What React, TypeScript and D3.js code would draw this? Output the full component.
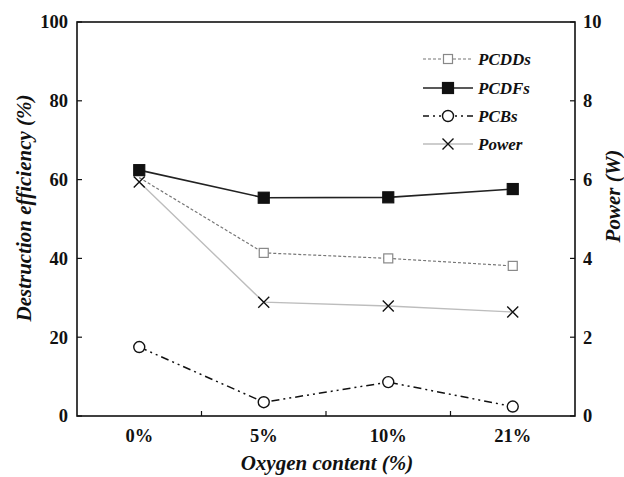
import React from "react";
import * as d3 from "d3";

const categories = ["0%", "5%", "10%", "21%"];
const pcdds = [60.5, 41.4, 40.0, 38.1];
const pcdfs = [62.4, 55.4, 55.5, 57.6];
const pcbs = [17.5, 3.5, 8.6, 2.4];
const power = [5.94, 2.89, 2.79, 2.64];
const leftTicks = [0, 20, 40, 60, 80, 100];
const rightTicks = [0, 2, 4, 6, 8, 10];

const W = 624, H = 477;
const m = { left: 77, right: 575, top: 22, bottom: 416 };

export default function App() {
  const x = d3.scaleBand().domain(categories).range([m.left, m.right]);
  const xc = (c: string) => (x(c) as number) + x.bandwidth() / 2;
  const yL = d3.scaleLinear().domain([0, 100]).range([m.bottom, m.top]);
  const yR = d3.scaleLinear().domain([0, 10]).range([m.bottom, m.top]);

  const lineL = d3.line<number>().x((_, i) => xc(categories[i])).y((d) => yL(d));
  const lineR = d3.line<number>().x((_, i) => xc(categories[i])).y((d) => yR(d));

  const serif = "'Liberation Serif', 'Times New Roman', serif";

  const square = (cx: number, cy: number, fill: string, stroke: string, s: number, key?: any) => (
    <rect key={key} x={cx - s / 2} y={cy - s / 2} width={s} height={s} fill={fill} stroke={stroke} strokeWidth={1.2} />
  );
  const circle = (cx: number, cy: number, key?: any) => (
    <circle key={key} cx={cx} cy={cy} r={5.5} fill="white" stroke="#111" strokeWidth={1.4} />
  );
  const cross = (cx: number, cy: number, key?: any) => (
    <path key={key} d={`M${cx - 5.5},${cy - 5.5}L${cx + 5.5},${cy + 5.5}M${cx - 5.5},${cy + 5.5}L${cx + 5.5},${cy - 5.5}`} stroke="#111" strokeWidth={1.4} />
  );

  const boundaries = categories.slice(1).map((c) => x(c) as number);

  const legendRows = [
    { label: "PCDDs", y: 59 },
    { label: "PCDFs", y: 88 },
    { label: "PCBs", y: 116 },
    { label: "Power", y: 144 },
  ];
  const lx0 = 423, lx1 = 473, lm = 448;

  return (
    <svg width={W} height={H} style={{ position: "absolute", left: 0, top: 0, background: "white" }} fontFamily={serif}>
      <rect x={0} y={0} width={W} height={H} fill="white" />
      <rect x={m.left} y={m.top} width={m.right - m.left} height={m.bottom - m.top} fill="none" stroke="#111" strokeWidth={1.6} />
      {leftTicks.map((t) => (
        <g key={"l" + t}>
          <line x1={m.left} x2={m.left + 5} y1={yL(t)} y2={yL(t)} stroke="#111" strokeWidth={1.2} />
          <text x={m.left - 9} y={yL(t)} dy="0.35em" textAnchor="end" fontSize={18.5} fontWeight="bold" fill="#111">{t}</text>
        </g>
      ))}
      {rightTicks.map((t) => (
        <g key={"r" + t}>
          <line x1={m.right - 5} x2={m.right} y1={yR(t)} y2={yR(t)} stroke="#111" strokeWidth={1.2} />
          <text x={m.right + 8} y={yR(t)} dy="0.35em" textAnchor="start" fontSize={18.5} fontWeight="bold" fill="#111">{t}</text>
        </g>
      ))}
      {boundaries.map((b, i) => (
        <line key={"b" + i} x1={b} x2={b} y1={m.bottom} y2={m.bottom - 5} stroke="#111" strokeWidth={1.2} />
      ))}
      {categories.map((c) => (
        <text key={"c" + c} x={xc(c)} y={442} textAnchor="middle" fontSize={18.5} fontWeight="bold" fill="#111">{c}</text>
      ))}
      <text x={327} y={470} textAnchor="middle" fontSize={21} fontWeight="bold" fontStyle="italic" fill="#111">Oxygen content (%)</text>
      <text transform={`translate(31,208) rotate(-90)`} textAnchor="middle" fontSize={21} fontWeight="bold" fontStyle="italic" fill="#111">Destruction efficiency (%)</text>
      <text transform={`translate(620,196) rotate(-90)`} textAnchor="middle" fontSize={21} fontWeight="bold" fontStyle="italic" fill="#111">Power (W)</text>

      <path d={lineR(power) || ""} fill="none" stroke="#bdbdbd" strokeWidth={1.4} />
      <path d={lineL(pcdds) || ""} fill="none" stroke="#777" strokeWidth={1.2} strokeDasharray="3,2" />
      <path d={lineL(pcdfs) || ""} fill="none" stroke="#222" strokeWidth={1.6} />
      <path d={lineL(pcbs) || ""} fill="none" stroke="#111" strokeWidth={1.5} strokeDasharray="8,4,2,4,2,4" />

      {power.map((v, i) => cross(xc(categories[i]), yR(v), "x" + i))}
      {pcdds.slice(1).map((v, i) => square(xc(categories[i + 1]), yL(v), "white", "#888", 9, "s" + i))}
      {pcdfs.map((v, i) => square(xc(categories[i]), yL(v), "#111", "#111", 11, "f" + i))}
      {pcbs.map((v, i) => circle(xc(categories[i]), yL(v), "c" + i))}

      {legendRows.map((r) => (
        <text key={r.label} x={478} y={r.y} dy="0.35em" fontSize={17} fontWeight="bold" fontStyle="italic" fill="#111">{r.label}</text>
      ))}
      <line x1={lx0} x2={lx1} y1={59} y2={59} stroke="#777" strokeWidth={1.2} strokeDasharray="3,2" />
      {square(lm, 59, "white", "#888", 9)}
      <line x1={lx0} x2={lx1} y1={88} y2={88} stroke="#222" strokeWidth={1.6} />
      {square(lm, 88, "#111", "#111", 11)}
      <line x1={lx0} x2={lx1} y1={116} y2={116} stroke="#111" strokeWidth={1.5} strokeDasharray="6,4,2,4,2,4" />
      {circle(lm, 116)}
      <line x1={lx0} x2={lx1} y1={144} y2={144} stroke="#bdbdbd" strokeWidth={1.4} />
      {cross(lm, 144)}
    </svg>
  );
}
